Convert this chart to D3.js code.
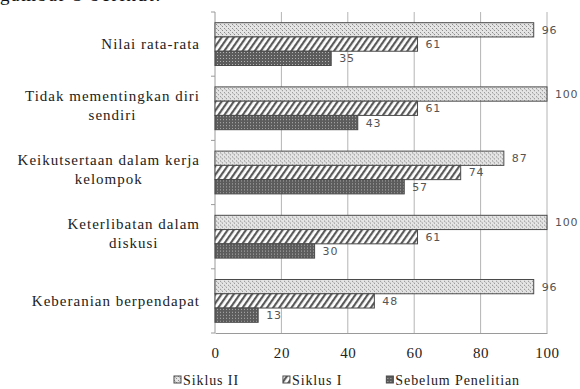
<!DOCTYPE html>
<html>
<head>
<meta charset="utf-8">
<script src="https://cdn.jsdelivr.net/npm/d3@7"></script>
<style>
  html, body { margin: 0; padding: 0; background: #fff; }
  svg { display: block; }
</style>
</head>
<body>
<svg id="chart" width="580" height="389"></svg>
<script>
// Aspects measured, top to bottom
const categories = [
  ["Nilai rata-rata"],
  ["Tidak mementingkan diri", "sendiri"],
  ["Keikutsertaan dalam kerja", "kelompok"],
  ["Keterlibatan dalam", "diskusi"],
  ["Keberanian berpendapat"]
];
const seriesNames = ["Siklus II", "Siklus I", "Sebelum Penelitian"];
const siklus2 = [96, 100, 87, 100, 96];
const siklus1 = [61, 61, 74, 61, 48];
const sebelum = [35, 43, 57, 30, 13];
const xTicks = [0, 20, 40, 60, 80, 100];

const seriesValues = [siklus2, siklus1, sebelum];
const patternIds = ["pat-s2", "pat-s1", "pat-s0"];

const svg = d3.select("#chart");
const margin = { left: 215, right: 33, top: 12, bottom: 56 };
const W = 580, H = 389;

const serif = "'Liberation Serif', 'Times New Roman', serif";
const sans = "'DejaVu Sans', Verdana, sans-serif";

// Fill patterns for the three series
const defs = svg.append("defs");
const pS2 = defs.append("pattern").attr("id", "pat-s2")
  .attr("patternUnits", "userSpaceOnUse").attr("width", 4).attr("height", 4);
pS2.append("rect").attr("width", 4).attr("height", 4).attr("fill", "#e4e4e4");
pS2.append("rect").attr("x", 0).attr("y", 0).attr("width", 1).attr("height", 1).attr("fill", "#8c8c8c");
pS2.append("rect").attr("x", 2).attr("y", 2).attr("width", 1).attr("height", 1).attr("fill", "#8c8c8c");
pS2.append("rect").attr("x", 1).attr("y", 1).attr("width", 1).attr("height", 1).attr("fill", "#bdbdbd");

const pS1 = defs.append("pattern").attr("id", "pat-s1")
  .attr("patternUnits", "userSpaceOnUse").attr("width", 5).attr("height", 5)
  .attr("patternTransform", "rotate(35)");
pS1.append("rect").attr("width", 5).attr("height", 5).attr("fill", "#ffffff");
pS1.append("rect").attr("x", 0).attr("width", 2.2).attr("height", 5).attr("fill", "#5a5a5a");

const pS0 = defs.append("pattern").attr("id", "pat-s0")
  .attr("patternUnits", "userSpaceOnUse").attr("width", 3).attr("height", 3);
pS0.append("rect").attr("width", 3).attr("height", 3).attr("fill", "#5c5c5c");
pS0.append("rect").attr("x", 1).attr("y", 1).attr("width", 1).attr("height", 1).attr("fill", "#b0b0b0");

// Partial line of running text above the figure
svg.append("text")
  .attr("x", 0).attr("y", 1)
  .attr("font-family", serif).attr("font-size", 19)
  .attr("letter-spacing", 1.6)
  .attr("fill", "#111")
  .text("gambar 3 berikut.");

const x = d3.scaleLinear().domain([0, 100]).range([margin.left, W - margin.right]);
const y = d3.scaleBand().domain(d3.range(categories.length))
  .range([margin.top, H - margin.bottom]).padding(0);
const ySub = d3.scaleBand().domain(d3.range(seriesNames.length))
  .range([0, y.bandwidth()]).paddingInner(0).paddingOuter(0.75);

// Vertical gridlines
svg.append("g").selectAll("line")
  .data(xTicks.filter(d => d > 0))
  .join("line")
  .attr("x1", d => x(d)).attr("x2", d => x(d))
  .attr("y1", margin.top).attr("y2", H - margin.bottom)
  .attr("stroke", "#b4b4b4").attr("stroke-width", 1);

// Bottom axis
const xAxis = svg.append("g")
  .attr("transform", `translate(0,${H - margin.bottom})`)
  .call(d3.axisBottom(x).tickValues(xTicks).tickSize(0).tickPadding(14));
xAxis.select(".domain").attr("stroke", "#9a9a9a");
xAxis.selectAll("text")
  .attr("font-family", serif).attr("font-size", 15)
  .attr("letter-spacing", 0.6).attr("fill", "#222");

// Left axis with tick marks at category boundaries
svg.append("line")
  .attr("x1", margin.left).attr("x2", margin.left)
  .attr("y1", margin.top).attr("y2", H - margin.bottom)
  .attr("stroke", "#9a9a9a");
svg.append("g").selectAll("line")
  .data(d3.range(categories.length + 1))
  .join("line")
  .attr("x1", margin.left - 4).attr("x2", margin.left)
  .attr("y1", i => margin.top + i * y.step())
  .attr("y2", i => margin.top + i * y.step())
  .attr("stroke", "#9a9a9a");

// Bars
const groups = svg.append("g").selectAll("g")
  .data(categories.map((c, i) => i))
  .join("g")
  .attr("transform", i => `translate(0,${y(i)})`);

groups.selectAll("rect")
  .data(i => seriesValues.map((vals, s) => ({ s, v: vals[i] })))
  .join("rect")
  .attr("x", x(0))
  .attr("y", d => ySub(d.s))
  .attr("width", d => x(d.v) - x(0))
  .attr("height", ySub.bandwidth())
  .attr("fill", d => `url(#${patternIds[d.s]})`)
  .attr("stroke", "#4a4a4a").attr("stroke-width", 1);

groups.selectAll("text.val")
  .data(i => seriesValues.map((vals, s) => ({ s, v: vals[i] })))
  .join("text")
  .attr("class", "val")
  .attr("x", d => x(d.v) + 8)
  .attr("y", d => ySub(d.s) + ySub.bandwidth() / 2)
  .attr("dy", "0.36em")
  .attr("font-family", sans).attr("font-size", 11)
  .attr("letter-spacing", 0.8)
  .attr("fill", "#555")
  .text(d => d.v);

// Category labels: single lines right-aligned, wrapped labels centred as a block
const labelRight = 200;
categories.forEach((lines, i) => {
  const cy = y(i) + y.bandwidth() / 2;
  if (lines.length === 1) {
    svg.append("text")
      .attr("x", labelRight).attr("y", cy).attr("dy", "0.35em")
      .attr("text-anchor", "end")
      .attr("font-family", serif).attr("font-size", 15)
      .attr("letter-spacing", 1).attr("fill", "#222")
      .text(lines[0]);
  } else {
    const lh = 19;
    const texts = lines.map((t, k) => svg.append("text")
      .attr("y", cy - 3 + (k - (lines.length - 1) / 2) * lh).attr("dy", "0.35em")
      .attr("text-anchor", "middle")
      .attr("font-family", serif).attr("font-size", 15)
      .attr("letter-spacing", 1).attr("fill", "#222")
      .text(t));
    const maxW = d3.max(texts, t => t.node().getComputedTextLength());
    texts.forEach(t => t.attr("x", labelRight - maxW / 2));
  }
});

// Legend
const legend = svg.append("g").attr("transform", "translate(174,380)");
let lx = 0;
seriesNames.forEach((name, s) => {
  const g = legend.append("g").attr("transform", `translate(${lx},0)`);
  g.append("rect")
    .attr("x", 0).attr("y", -4).attr("width", 7).attr("height", 7)
    .attr("fill", `url(#${patternIds[s]})`)
    .attr("stroke", "#4a4a4a").attr("stroke-width", 1);
  const t = g.append("text")
    .attr("x", 9).attr("y", 0).attr("dy", "0.35em")
    .attr("font-family", serif).attr("font-size", 14)
    .attr("letter-spacing", 0.9).attr("fill", "#222")
    .text(name);
  lx += 9 + t.node().getComputedTextLength() + 44;
});
</script>
</body>
</html>
